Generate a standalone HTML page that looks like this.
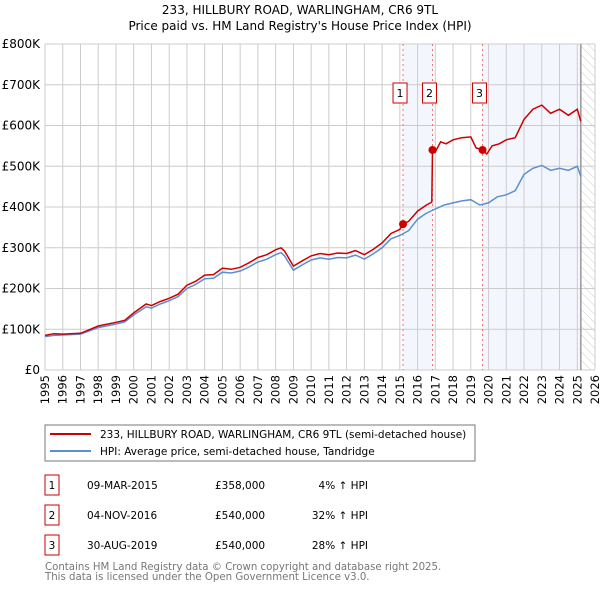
<!DOCTYPE html>
<html><head><meta charset="utf-8"><style>
body{margin:0;background:#fff;width:600px;height:590px;overflow:hidden;font-family:"DejaVu Sans","Liberation Sans",sans-serif;}
svg text{font-family:"DejaVu Sans","Liberation Sans",sans-serif;}
</style></head><body>
<svg id="c" width="600" height="590">
<defs><pattern id="hatch" width="6" height="6" patternUnits="userSpaceOnUse" patternTransform="rotate(-45)"><line x1="0" y1="0" x2="0" y2="6" stroke="#ccc" stroke-width="1"/></pattern></defs>
<text x="300" y="14" text-anchor="middle" font-size="12">233, HILLBURY ROAD, WARLINGHAM, CR6 9TL</text>
<text x="300" y="30" text-anchor="middle" font-size="12">Price paid vs. HM Land Registry's House Price Index (HPI)</text>
<g id="plot"></g>
<rect x="45" y="425" width="430" height="36" fill="#fff" stroke="#777"/>
<line x1="50" y1="434" x2="91" y2="434" stroke="#cc0000" stroke-width="2"/>
<text x="100" y="438" font-size="10.5">233, HILLBURY ROAD, WARLINGHAM, CR6 9TL (semi-detached house)</text>
<line x1="50" y1="451" x2="91" y2="451" stroke="#5b8fd0" stroke-width="2"/>
<text x="100" y="455" font-size="10.5">HPI: Average price, semi-detached house, Tandridge</text>
<g id="table" font-size="10.5"></g>
<text x="45" y="570" font-size="10.2" fill="#777">Contains HM Land Registry data © Crown copyright and database right 2025.</text>
<text x="45" y="580" font-size="10.2" fill="#777">This data is licensed under the Open Government Licence v3.0.</text>
</svg>
<script>
const hpiT=[1995,1995.5,1996,1997,1997.5,1998,1999,1999.5,2000,2000.7,2001,2001.5,2002,2002.5,2003,2003.5,2004,2004.5,2005,2005.5,2006,2006.5,2007,2007.5,2008,2008.3,2008.5,2009,2009.5,2010,2010.5,2011,2011.5,2012,2012.5,2013,2013.5,2014,2014.5,2015,2015.5,2016,2016.5,2017,2017.5,2018,2018.5,2019,2019.5,2020,2020.5,2021,2021.5,2022,2022.5,2023,2023.5,2024,2024.5,2025,2025.2];
const hpiV=[82,85,86,88,96,104,113,118,135,155,152,162,170,180,200,210,224,225,240,238,243,253,265,272,283,288,280,245,258,270,275,272,276,275,282,272,285,300,322,330,342,370,385,395,405,410,415,418,405,410,425,430,440,480,495,502,490,495,490,500,475];
const redT=[1995,1995.5,1996,1997,1997.5,1998,1999,1999.5,2000,2000.7,2001,2001.5,2002,2002.5,2003,2003.5,2004,2004.5,2005,2005.5,2006,2006.5,2007,2007.5,2008,2008.3,2008.5,2009,2009.5,2010,2010.5,2011,2011.5,2012,2012.5,2013,2013.5,2014,2014.5,2015,2015.18,2015.5,2016,2016.5,2016.8,2016.84,2017,2017.3,2017.6,2018,2018.5,2019,2019.3,2019.66,2019.9,2020.2,2020.6,2021,2021.5,2022,2022.5,2023,2023.5,2024,2024.5,2025,2025.2];
const redV=[85,89,88,90,99,108,117,122,140,162,158,168,176,186,208,218,233,234,250,247,252,263,276,283,295,300,292,255,268,280,286,283,287,286,293,283,296,312,335,345,358,365,390,405,412,540,535,560,555,565,570,572,545,540,530,550,555,565,570,615,640,650,630,640,625,640,610];
const saleT=[2015.18,2016.84,2019.66];
const saleV=[358,540,540];
const saleLabels=["1","2","3"];
const saleDates=["09-MAR-2015","04-NOV-2016","30-AUG-2019"];
const salePrices=["£358,000","£540,000","£540,000"];
const saleHpi=["4% ↑ HPI","32% ↑ HPI","28% ↑ HPI"];
const yTicks=[0,100,200,300,400,500,600,700,800];
const yTickLabels=["£0","£100K","£200K","£300K","£400K","£500K","£600K","£700K","£800K"];
const xYears=[1995,1996,1997,1998,1999,2000,2001,2002,2003,2004,2005,2006,2007,2008,2009,2010,2011,2012,2013,2014,2015,2016,2017,2018,2019,2020,2021,2022,2023,2024,2025,2026];
const x0=45,x1=595,y0=370,y1=44;
const X=t=>x0+(t-1995)/(2026-1995)*(x1-x0);
const Y=v=>y0-v/800*(y0-y1);
const NS="http://www.w3.org/2000/svg";
const plot=document.getElementById('plot');
function mk(tag,attrs,parent){const e=document.createElementNS(NS,tag);for(const k in attrs)e.setAttribute(k,attrs[k]);(parent||plot).appendChild(e);return e;}
let e;
e=mk('rect',{x:x0,y:y1,width:x1-x0,height:y0-y1,fill:'#fff'});


e=mk('rect',{x:X(saleT[0]),y:y1,width:X(saleT[1])-X(saleT[0]),height:y0-y1,fill:'#eef3fc',opacity:0.7});


e=mk('rect',{x:X(saleT[2]),y:y1,width:X(2025.2)-X(saleT[2]),height:y0-y1,fill:'#eef3fc',opacity:0.7});


e=mk('rect',{x:X(2025.2),y:y1,width:x1-X(2025.2),height:y0-y1,fill:'url(#hatch)'});


xYears.forEach((yr,i)=>{
 e=mk('line',{x1:X(yr),x2:X(yr),y1:y1,y2:y0,stroke:'#ccc','stroke-width':1});
 
 
 const tx=X(yr)+4;
 e=mk('text',{x:tx,y:375,'font-size':11.5,'text-anchor':'end',transform:`rotate(-90 ${tx} 375)`});
 e.textContent=yr;
 
 
});
yTicks.forEach((v,i)=>{
 e=mk('line',{x1:x0,x2:x1,y1:Y(v),y2:Y(v),stroke:'#ccc','stroke-width':1});
 
 
 e=mk('text',{x:40,y:Y(v)+4,'font-size':12,'text-anchor':'end'});
 e.textContent=yTickLabels[i];
 
 
});
e=mk('line',{x1:X(2025.2),x2:X(2025.2),y1:y1,y2:y0,stroke:'#999','stroke-width':1.5});


saleT.forEach((t,i)=>{
 e=mk('line',{x1:X(t),x2:X(t),y1:y1,y2:y0,stroke:'#f07070','stroke-width':1,'stroke-dasharray':'2,3'});
 
 
 e=mk('rect',{x:X(t)-10,y:83,width:14,height:20,fill:'#fff',stroke:'#cc0000'});
 
 
 e=mk('text',{x:X(t)-3,y:97,'font-size':11,'text-anchor':'middle'});
 e.textContent=saleLabels[i];
 
 
});
const path=(T,V)=>T.map((t,i)=>(i?'L':'M')+X(t).toFixed(1)+','+Y(V[i]).toFixed(1)).join('');
e=mk('path',{d:path(hpiT,hpiV),fill:'none',stroke:'#5b8fd0','stroke-width':1.5});


e=mk('path',{d:path(redT,redV),fill:'none',stroke:'#cc0000','stroke-width':1.5});


saleT.forEach((t,i)=>{
 e=mk('circle',{cx:X(t),cy:Y(saleV[i]),r:4,fill:'#cc0000'});
 
 
});
const tbl=document.getElementById('table');
saleT.forEach((t,i)=>{
 const yy=475+i*30;
 e=mk('rect',{x:45,y:yy,width:14,height:20,fill:'#fff',stroke:'#cc0000'},tbl);
 
 
 e=mk('text',{x:52,y:yy+14,'text-anchor':'middle'},tbl);e.textContent=saleLabels[i];
 
 
 e=mk('text',{x:87,y:yy+14},tbl);e.textContent=saleDates[i];
 
 
 e=mk('text',{x:215,y:yy+14},tbl);e.textContent=salePrices[i];
 
 
 e=mk('text',{x:368,y:yy+14,'text-anchor':'end'},tbl);e.textContent=saleHpi[i];
 
 
});
</script>
</body></html>
